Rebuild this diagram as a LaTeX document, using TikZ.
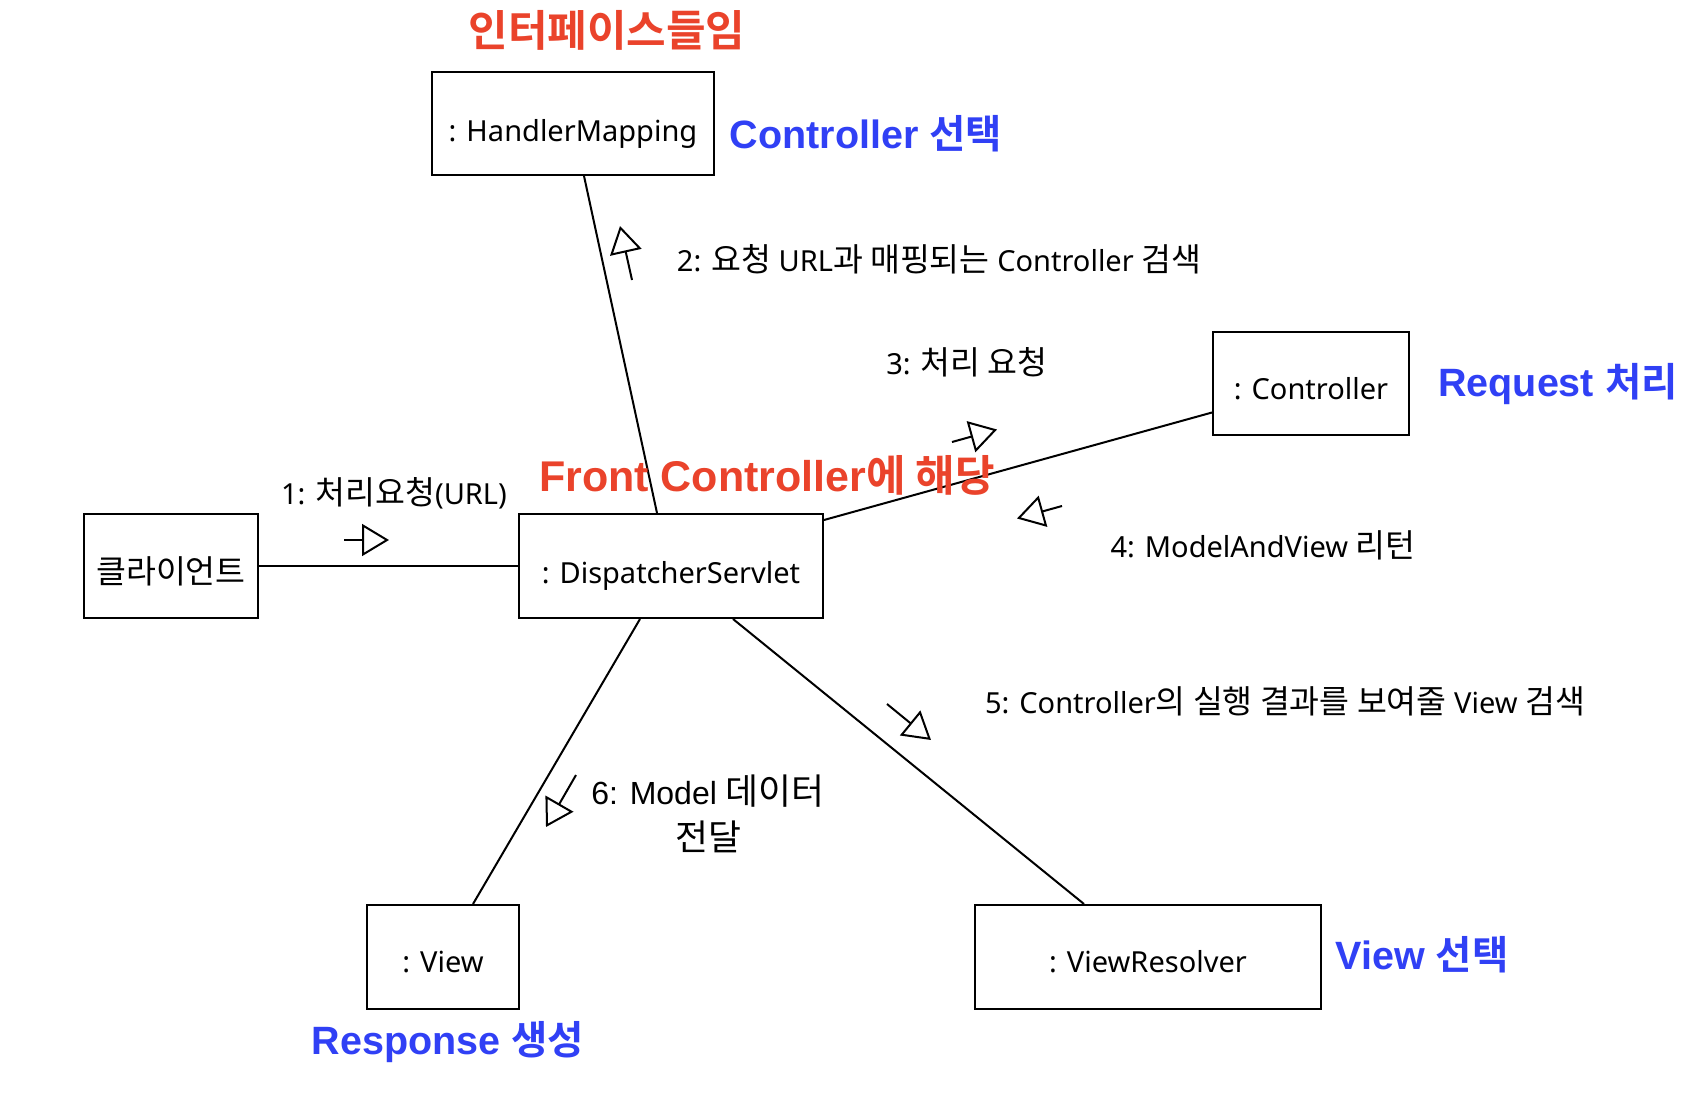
\documentclass[tikz,border=0pt]{standalone}
\usepackage{fontspec}
\setmainfont{Noto Sans}
\newfontfamily\kr[Scale=1.12]{Noto Sans CJK KR}
\newfontfamily\krB[Scale=1.0,BoldFont={Noto Sans CJK KR Bold}]{Noto Sans CJK KR}
\newfontfamily\arial{Liberation Sans}
\usetikzlibrary{arrows.meta,calc}
\definecolor{tred}{RGB}{234,67,43}
\definecolor{tblue}{RGB}{48,64,245}
\newcommand\K[1]{{\kr #1}}
\newcommand\KB[1]{{\krB\bfseries #1}}
\newcommand\low[2]{\raisebox{-#1pt}[\height][\depth]{#2}}
\tikzset{
  box/.style={draw,line width=2pt,inner sep=0pt,font=\fontsize{29}{34}\selectfont},
  lbl/.style={inner sep=0pt,font=\fontsize{29}{34}\selectfont},
  lblh/.style={inner sep=0pt,font=\arial\fontsize{32}{46}\selectfont,align=center},
  bnote/.style={inner sep=0pt,text=tblue,font=\arial\bfseries\fontsize{39.5}{46}\selectfont},
  rnote/.style={inner sep=0pt,text=tred,font=\arial\bfseries\fontsize{43}{50}\selectfont},
  conn/.style={line width=2pt},
  msg/.style={line width=2pt,-{Triangle[open,length=27pt,width=32pt]}},
}
\begin{document}
\begin{tikzpicture}[x=1pt,y=-1pt]
\useasboundingbox (0,0) rectangle (1694,1102);
% boxes
\node[box,minimum width=282pt,minimum height=103pt] (hm) at (573,123.5) {\low{10}{: HandlerMapping}};
\node[box,minimum width=196pt,minimum height=103pt] (ctrl) at (1311,383.5) {\low{5}{: Controller}};
\node[box,minimum width=174pt,minimum height=104pt] (client) at (171,566) {\low{5}{\K{클라이언트}}};
\node[box,minimum width=304pt,minimum height=104pt] (ds) at (671,566) {\low{10}{: DispatcherServlet}};
\node[box,minimum width=152pt,minimum height=104pt] (view) at (443,957) {\low{5}{: View}};
\node[box,minimum width=346pt,minimum height=104pt] (vr) at (1148,957) {\low{5}{: ViewResolver}};
% connectors
\draw[conn] (client.east) -- (ds.west);
\draw[conn] ($(hm.south)+(11,0)$) -- ($(ds.north)+(-14,0)$);
\draw[conn] ($(ds.north east)+(0,7)$) -- ($(ctrl.west)+(0,29)$);
\draw[conn] ($(ds.south)+(-31,0)$) -- ($(view.north)+(30,0)$);
\draw[conn] ($(ds.south)+(62,0)$) -- ($(vr.north)+(-64,0)$);
% message arrows
\coordinate (m1s) at (344,540); \coordinate (m1t) at (389,540);
\coordinate (m2s) at (632,280); \coordinate (m2t) at (620,226);
\coordinate (m3s) at (952,442); \coordinate (m3t) at (997,429.5);
\coordinate (m4s) at (1062,506); \coordinate (m4t) at (1017,518.5);
\coordinate (m5s) at (887,704); \coordinate (m5t) at (931,740);
\coordinate (m6s) at (576,775); \coordinate (m6t) at (546,827);
\draw[msg] (m1s) -- (m1t);
\draw[msg] (m2s) -- (m2t);
\draw[msg] (m3s) -- (m3t);
\draw[msg] (m4s) -- (m4t);
\draw[msg] (m5s) -- (m5t);
\draw[msg] (m6s) -- (m6t);
% message labels
\node[lbl] (l1) at (394,493) {1: \K{처리요청}(URL)};
\node[lbl] (l2) at (939,259) {2: \K{요청} URL\K{과 매핑되는} Controller \K{검색}};
\node[lbl] (l3) at (967,362) {3: \K{처리 요청}};
\node[lbl] (l4) at (1263,545) {4: ModelAndView \K{리턴}};
\node[lbl] (l5) at (1285,701) {5: Controller\K{의 실행 결과를 보여줄} View \K{검색}};
\node[lblh] (l6) at (708,814) {6: Model \K{데이터}\\\K{전달}};
% notes
\node[rnote] (n1) at (607,30) {\KB{인터페이스들임}};
\node[bnote] (n2) at (866,134) {Controller \KB{선택}};
\node[rnote] (n3) at (767,475) {Front Controller\KB{에 해당}};
\node[bnote] (n4) at (1558,384) {Request \KB{처리}};
\node[bnote] (n5) at (1422,955) {View \KB{선택}};
\node[bnote] (n6) at (448,1042) {Response \KB{생성}};
\end{tikzpicture}
\end{document}
